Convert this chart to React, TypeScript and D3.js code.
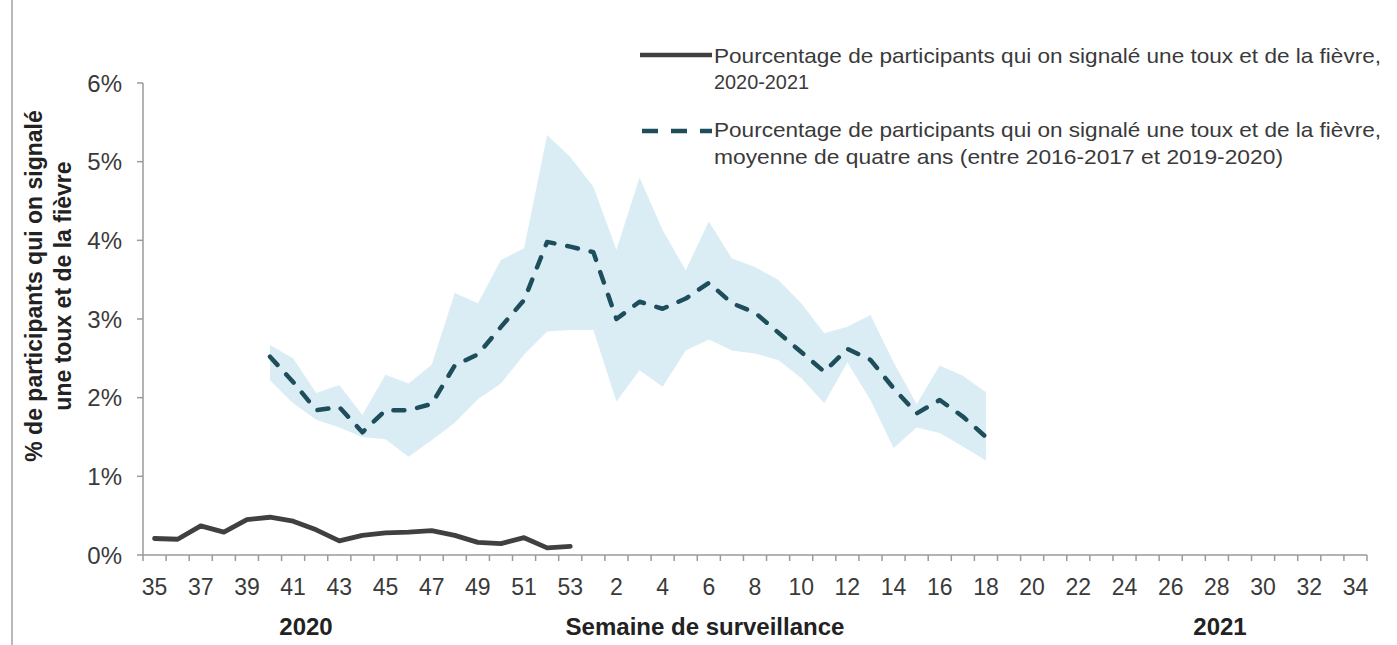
import React from 'react';
import * as d3 from 'd3';

// Semaines de surveillance : 35..53 (2020) puis 1..34 (2021)
const weeks = [
  35, 36, 37, 38, 39, 40, 41, 42, 43, 44, 45, 46, 47, 48, 49, 50, 51, 52, 53,
  1, 2, 3, 4, 5, 6, 7, 8, 9, 10, 11, 12, 13, 14, 15, 16, 17, 18, 19, 20, 21, 22,
  23, 24, 25, 26, 27, 28, 29, 30, 31, 32, 33, 34,
];

// Saison 2020-2021 (semaines 35 à 53), en %
const currentWeeks = [35, 36, 37, 38, 39, 40, 41, 42, 43, 44, 45, 46, 47, 48, 49, 50, 51, 52, 53];
const currentValues = [0.21, 0.2, 0.37, 0.29, 0.45, 0.48, 0.43, 0.32, 0.18, 0.25, 0.28, 0.29, 0.31, 0.25, 0.16, 0.145, 0.22, 0.09, 0.11];

// Moyenne de quatre ans (semaine 40 à semaine 18), en %
const avgWeeks = [40, 41, 42, 43, 44, 45, 46, 47, 48, 49, 50, 51, 52, 53, 1, 2, 3, 4, 5, 6, 7, 8, 9, 10, 11, 12, 13, 14, 15, 16, 17, 18];
const avgValues = [2.52, 2.2, 1.84, 1.88, 1.56, 1.84, 1.84, 1.92, 2.41, 2.55, 2.9, 3.24, 3.98, 3.92, 3.85, 3.0, 3.22, 3.13, 3.26, 3.46, 3.2, 3.08, 2.83, 2.58, 2.33, 2.62, 2.48, 2.12, 1.8, 1.97, 1.76, 1.5];
const avgLow = [2.22, 1.93, 1.72, 1.62, 1.5, 1.47, 1.25, 1.46, 1.68, 1.98, 2.18, 2.55, 2.84, 2.86, 2.86, 1.95, 2.35, 2.14, 2.6, 2.74, 2.6, 2.56, 2.48, 2.25, 1.93, 2.45, 1.97, 1.36, 1.62, 1.55, 1.38, 1.2];
const avgHigh = [2.67, 2.5, 2.06, 2.16, 1.78, 2.29, 2.18, 2.42, 3.33, 3.2, 3.75, 3.9, 5.34, 5.06, 4.68, 3.88, 4.8, 4.13, 3.62, 4.24, 3.77, 3.66, 3.5, 3.2, 2.82, 2.9, 3.05, 2.45, 1.92, 2.41, 2.28, 2.07];

const yTicks = [0, 1, 2, 3, 4, 5, 6];

const legendLines = [
  'Pourcentage de participants qui on signalé une toux et de la fièvre,',
  '2020-2021',
  'Pourcentage de participants qui on signalé une toux et de la fièvre,',
  'moyenne de quatre ans (entre 2016-2017 et 2019-2020)',
];

const FONT = '"Liberation Sans", Arial, sans-serif';

export default function App() {
  const width = 1397;
  const height = 645;
  const left = 143;
  const right = 1367;
  const top = 83;
  const bottom = 555;

  // position of each week in the season (week 35 of 2020 = 0)
  const idx = (w: number) => (w >= 35 ? w - 35 : w + 18);

  const x = d3.scaleBand<number>()
    .domain(weeks.map((_, i) => i))
    .range([left, right])
    .paddingInner(0)
    .paddingOuter(0);
  const bw = x.bandwidth();
  const cx = (w: number) => (x(idx(w)) as number) + bw / 2;

  const y = d3.scaleLinear().domain([0, 6]).range([bottom, top]);

  const area = d3.area<number>()
    .x((_, i) => cx(avgWeeks[i]))
    .y0((_, i) => y(avgLow[i]))
    .y1((_, i) => y(avgHigh[i]));

  const avgLine = d3.line<number>()
    .x((_, i) => cx(avgWeeks[i]))
    .y((d) => y(d));

  const curLine = d3.line<number>()
    .x((_, i) => cx(currentWeeks[i]))
    .y((d) => y(d));

  const axisColor = '#9a9a9a';
  const textColor = '#3a3a3a';
  const legendWidths = [667, 95, 667, 569];

  return (
    <svg width={width} height={height} style={{ position: 'absolute', left: 0, top: 0, background: '#fff' }} fontFamily={FONT}>
      {/* cadre gauche */}
      <line x1={12} x2={12} y1={0} y2={height} stroke="#8a8a8a" strokeWidth={1.2} />

      {/* bande min-max */}
      <path d={area(avgValues) || ''} fill="#daedf5" />

      {/* axes */}
      <line x1={left} x2={left} y1={top} y2={bottom} stroke={axisColor} strokeWidth={1.5} />
      <line x1={left} x2={right} y1={bottom} y2={bottom} stroke={axisColor} strokeWidth={1.5} />
      {yTicks.map((t) => (
        <g key={'y' + t}>
          <line x1={left - 6} x2={left} y1={y(t)} y2={y(t)} stroke={axisColor} strokeWidth={1.5} />
          <text x={122} y={y(t)} dy="0.36em" textAnchor="end" fontSize={24} fill={textColor}>{t + '%'}</text>
        </g>
      ))}
      {d3.range(weeks.length + 1).map((i) => (
        <line key={'xt' + i} x1={left + i * bw} x2={left + i * bw} y1={bottom} y2={bottom + 6} stroke={axisColor} strokeWidth={1.5} />
      ))}
      {weeks.map((w, i) => (i % 2 === 0 ? (
        <text key={'xl' + i} x={cx(w)} y={595} textAnchor="middle" fontSize={23} fill={textColor}>{w}</text>
      ) : null))}

      {/* séries */}
      <path d={avgLine(avgValues) || ''} fill="none" stroke="#1e4d5c" strokeWidth={4.5} strokeDasharray="11,13" strokeLinecap="round" strokeLinejoin="round" />
      <path d={curLine(currentValues) || ''} fill="none" stroke="#404040" strokeWidth={4.8} strokeLinecap="round" strokeLinejoin="round" />

      {/* titres des axes */}
      <text x={306} y={635} textAnchor="middle" fontSize={24} fontWeight="bold" fill="#222">2020</text>
      <text x={705} y={635} textAnchor="middle" fontSize={24} fontWeight="bold" fill="#222">Semaine de surveillance</text>
      <text x={1220} y={635} textAnchor="middle" fontSize={24} fontWeight="bold" fill="#222">2021</text>
      <g transform="translate(34,286) rotate(-90)">
        <text x={0} y={0} dy="0.35em" textAnchor="middle" fontSize={23} fontWeight="bold" fill="#222">% de participants qui on signalé</text>
        <text x={0} y={29} dy="0.35em" textAnchor="middle" fontSize={23} fontWeight="bold" fill="#222">une toux et de la fièvre</text>
      </g>

      {/* légende */}
      <line x1={640} x2={712} y1={55} y2={55} stroke="#404040" strokeWidth={4.5} />
      <line x1={640} x2={712} y1={131} y2={131} stroke="#1e4d5c" strokeWidth={4.5} strokeDasharray="16,13" strokeDashoffset={-2} />
      {[56, 82, 130, 157].map((ly, i) => (
        <text key={'lg' + i} x={714} y={ly} dy="0.35em" fontSize={21} fill={textColor}
          textLength={legendWidths[i]} lengthAdjust="spacingAndGlyphs">{legendLines[i]}</text>
      ))}
    </svg>
  );
}
